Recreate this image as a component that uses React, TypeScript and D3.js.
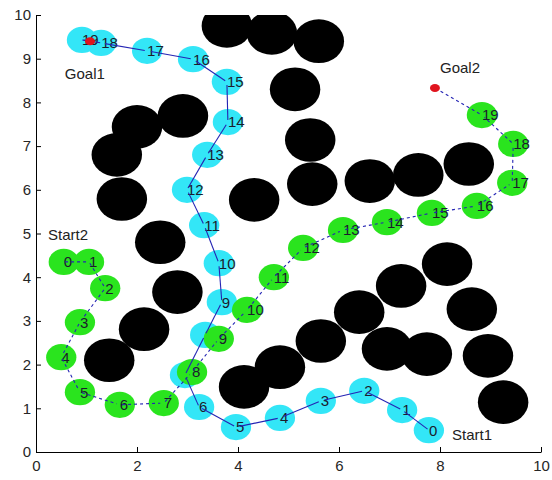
import React, { useEffect, useRef } from "react";
import * as d3 from "d3";

// obstacles (black discs, radius 0.5)
const obstacleX = [3.78, 4.67, 5.6, 5.13, 2.91, 2.0, 1.6, 1.7, 2.46, 4.32, 5.43, 5.47, 6.61, 7.57, 8.57, 2.8, 2.14, 1.45, 4.12, 4.83, 5.64, 6.4, 7.23, 8.14, 8.63, 6.95, 7.74, 8.95, 9.25];
const obstacleY = [9.75, 9.59, 9.4, 8.3, 7.69, 7.44, 6.8, 5.79, 4.8, 5.77, 7.14, 6.13, 6.2, 6.34, 6.59, 3.66, 2.81, 2.1, 1.49, 1.94, 2.54, 3.2, 3.8, 4.3, 3.27, 2.36, 2.24, 2.2, 1.14];

// robot 1 (cyan), steps 0..19
const robot1X = [7.78, 7.25, 6.5, 5.64, 4.83, 3.96, 3.23, 2.95, 3.35, 3.68, 3.62, 3.33, 2.99, 3.39, 3.8, 3.78, 3.11, 2.2, 1.29, 0.91];
const robot1Y = [0.5, 0.96, 1.4, 1.17, 0.78, 0.57, 1.03, 1.76, 2.68, 3.43, 4.32, 5.19, 6.0, 6.8, 7.55, 8.47, 8.99, 9.18, 9.36, 9.43];

// robot 2 (green), steps 0..19
const robot2X = [0.55, 1.05, 1.37, 0.87, 0.5, 0.87, 1.66, 2.53, 3.09, 3.62, 4.18, 4.71, 5.29, 6.08, 6.95, 7.84, 8.73, 9.43, 9.45, 8.83];
const robot2Y = [4.35, 4.35, 3.75, 2.97, 2.17, 1.37, 1.08, 1.12, 1.83, 2.59, 3.25, 4.0, 4.67, 5.08, 5.26, 5.47, 5.63, 6.16, 7.05, 7.71];

const goal1 = [1.07, 9.4];
const goal2 = [7.9, 8.33];

const labelNames = ["Goal1", "Goal2", "Start1", "Start2"];
const labelX = [0.57, 8.0, 8.24, 0.24];
const labelY = [8.65, 8.79, 0.39, 4.97];

const ticks = [0, 2, 4, 6, 8, 10];
const yTicks = [0, 1, 2, 3, 4, 5, 6, 7, 8, 9, 10];

const App = () => {
  const svgRef = useRef<SVGSVGElement | null>(null);
  const w = 552;
  const h = 480;

  useEffect(() => {
    const svg = d3.select(svgRef.current);
    svg.selectAll("*").remove();

    const x = d3.scaleLinear().domain([0, 10]).range([36, 541]);
    const y = d3.scaleLinear().domain([0, 10]).range([452, 15]);
    const rx = (r: number) => x(r) - x(0);
    const ry = (r: number) => y(0) - y(r);

    svg.append("defs").append("clipPath").attr("id", "plotclip")
      .append("rect")
      .attr("x", x(0)).attr("y", y(10))
      .attr("width", x(10) - x(0)).attr("height", y(0) - y(10));

    const plot = svg.append("g").attr("clip-path", "url(#plotclip)");

    // obstacles
    plot.selectAll(".obs")
      .data(obstacleX.map((d, i) => [d, obstacleY[i]]))
      .enter().append("ellipse")
      .attr("cx", (d) => x(d[0]))
      .attr("cy", (d) => y(d[1]))
      .attr("rx", rx(0.5))
      .attr("ry", ry(0.5))
      .attr("fill", "#000");

    const drawRobot = (xs: number[], ys: number[], color: string) => {
      const pts = xs.map((d, i) => [d, ys[i]]);
      plot.append("g").selectAll("ellipse")
        .data(pts)
        .enter().append("ellipse")
        .attr("cx", (d) => x(d[0]))
        .attr("cy", (d) => y(d[1]))
        .attr("rx", rx(0.3))
        .attr("ry", ry(0.3))
        .attr("fill", color);
      plot.append("g").selectAll("text")
        .data(pts)
        .enter().append("text")
        .attr("x", (d) => x(d[0]))
        .attr("y", (d) => y(d[1]))
        .attr("dy", "0.36em")
        .attr("font-size", 15)
        .attr("fill", "#1c1c2c")
        .text((d, i) => String(i));
    };

    drawRobot(robot1X, robot1Y, "#33e6f7");
    drawRobot(robot2X, robot2Y, "#2ae41e");

    // path segments (quiver-like, slightly shortened)
    const drawPath = (xs: number[], ys: number[], goal: number[], dash: string | null) => {
      const pts = xs.map((d, i) => [d, ys[i]]).concat([goal]);
      const segs = d3.pairs(pts).map(([a, b]) => [
        [a[0] + 0.05 * (b[0] - a[0]), a[1] + 0.05 * (b[1] - a[1])],
        [a[0] + 0.92 * (b[0] - a[0]), a[1] + 0.92 * (b[1] - a[1])],
      ]);
      const line = d3.line<number[]>().x((d) => x(d[0])).y((d) => y(d[1]));
      plot.append("g").selectAll("path")
        .data(segs)
        .enter().append("path")
        .attr("d", (d) => line(d))
        .attr("fill", "none")
        .attr("stroke", "#2424b4")
        .attr("stroke-width", 1.1)
        .attr("stroke-dasharray", dash);
    };
    drawPath(robot1X, robot1Y, goal1, null);
    drawPath(robot2X, robot2Y, goal2, "3,3");

    // goals
    plot.selectAll(".goal")
      .data([goal1, goal2])
      .enter().append("ellipse")
      .attr("cx", (d) => x(d[0]))
      .attr("cy", (d) => y(d[1]))
      .attr("rx", 5)
      .attr("ry", 4)
      .attr("fill", "#e0141e");

    svg.append("g").selectAll("text")
      .data(labelNames)
      .enter().append("text")
      .attr("x", (d, i) => x(labelX[i]))
      .attr("y", (d, i) => y(labelY[i]))
      .attr("dy", "0.36em")
      .attr("font-size", 15)
      .attr("fill", "#222")
      .text((d) => d);

    // axes, MATLAB-style inward ticks
    const xAxis = svg.append("g")
      .attr("transform", `translate(0, ${y(0)})`)
      .call(d3.axisBottom(x).tickValues(ticks).tickSizeInner(-5).tickSizeOuter(0).tickPadding(8));
    const yAxis = svg.append("g")
      .attr("transform", `translate(${x(0)}, 0)`)
      .call(d3.axisLeft(y).tickValues(yTicks).tickSizeInner(-5).tickSizeOuter(0).tickPadding(5));

    [xAxis, yAxis].forEach((a) => {
      a.attr("font-size", 15).attr("font-family", null);
      a.selectAll("text").attr("fill", "#262626");
      a.selectAll("line, path").attr("stroke", "#000");
    });
  }, []);

  return (
    <svg
      ref={svgRef}
      width={w}
      height={h}
      style={{ position: "absolute", left: 0, top: 0, background: "#fff", fontFamily: "Arial, 'Liberation Sans', sans-serif" }}
    ></svg>
  );
};

export default App;
